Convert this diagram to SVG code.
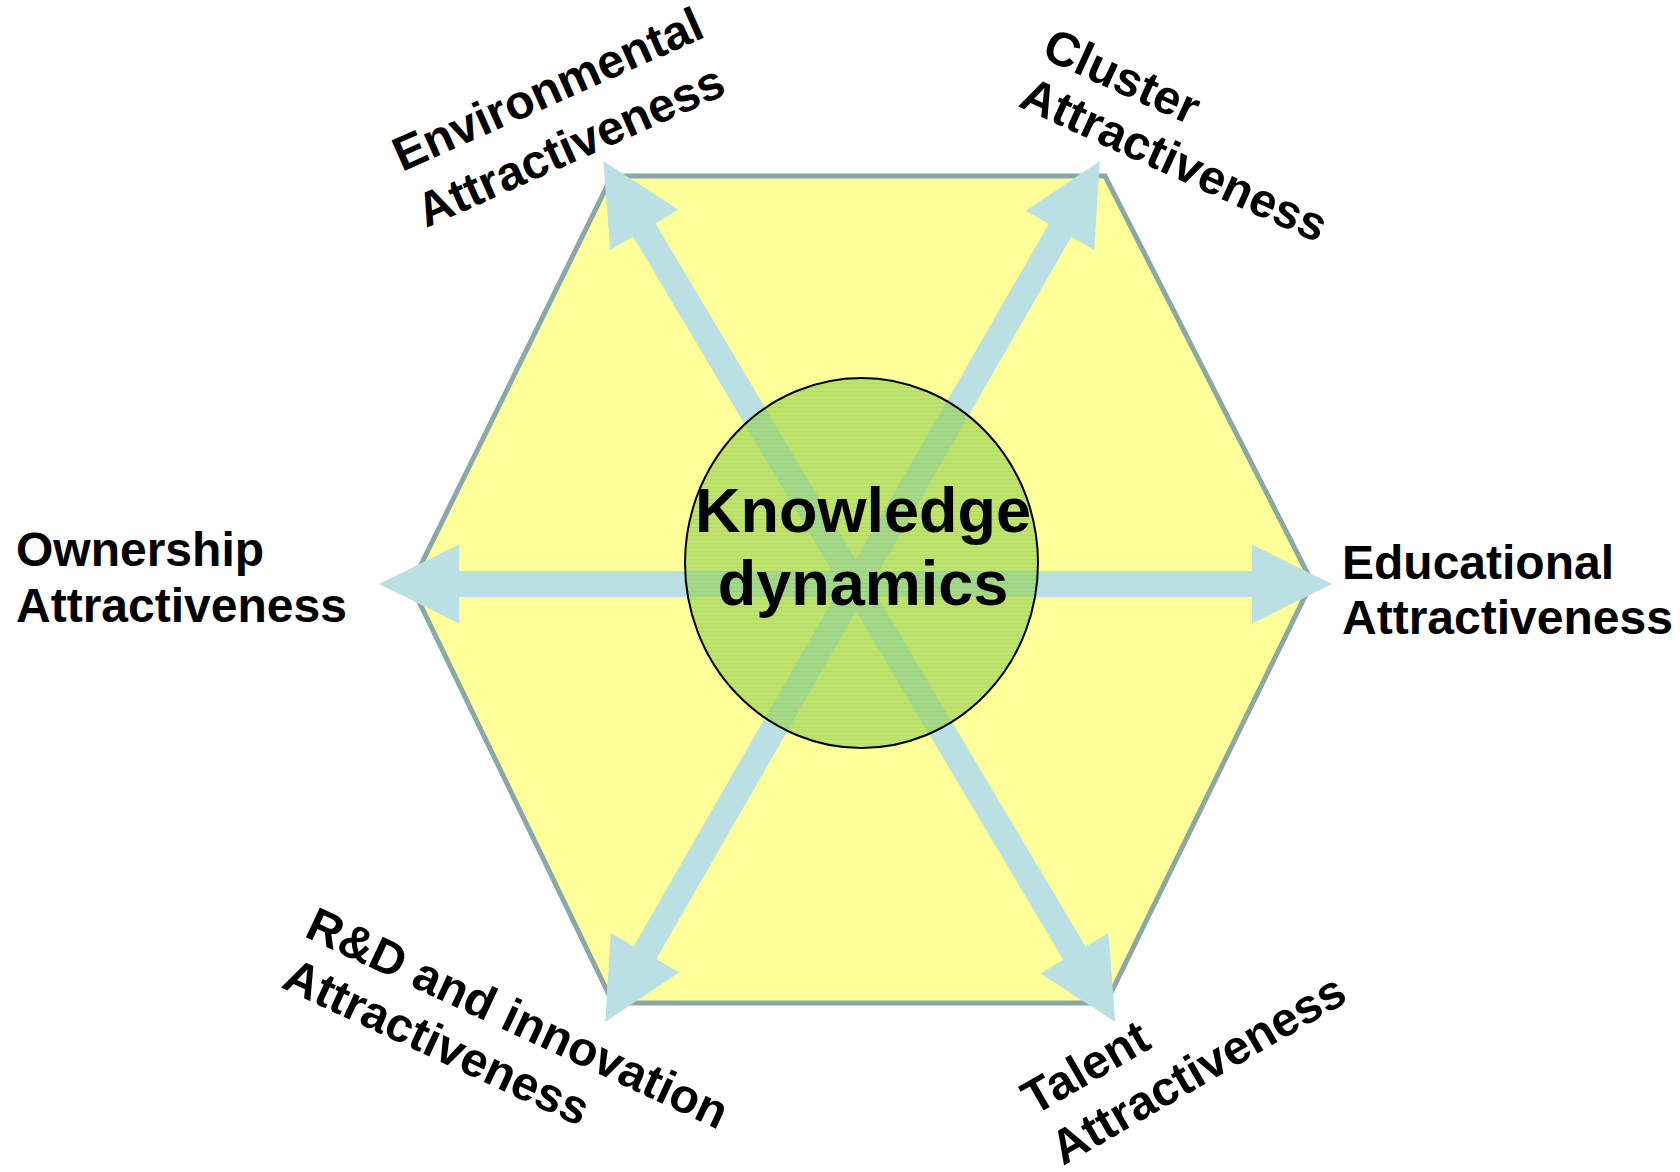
<svg xmlns="http://www.w3.org/2000/svg" width="1680" height="1172" viewBox="0 0 1680 1172">
  <defs>
    <style>
      .hex { fill: #FFFF99; stroke: #8BA8A8; stroke-width: 5; stroke-linejoin: miter; }
      .arrow { fill: #BAE0E4; }
      .label { font-family: "Liberation Sans", Arial, sans-serif; font-weight: bold; font-size: 48px; fill: #000; }
      .center-text { font-family: "Liberation Sans", Arial, sans-serif; font-weight: bold; font-size: 63px; fill: #000; text-anchor: middle; }
    </style>
    <pattern id="tex" width="6" height="4" patternUnits="userSpaceOnUse">
      <rect width="6" height="4" fill="#96D44E"/>
      <rect y="3" width="6" height="1" fill="#84C448"/>
    </pattern>
  </defs>
  <rect width="1680" height="1172" fill="#FFFFFF"/>

  <g id="hexagon">
    <polygon class="hex" points="612,176 1105,176 1312,582 1106,1003 613,1003 411,585"/>
  </g>

  <g id="connectors">
    <path class="arrow" transform="translate(855.5,584)" d="M-476.5,0 L-396.5,-39.5 L-396.5,-13 L396.5,-13 L396.5,-39.5 L476.5,0 L396.5,39.5 L396.5,13 L-396.5,13 L-396.5,39.5 Z"/>
    <path class="arrow" transform="translate(859.3,591.5) rotate(59.26)" d="M-500.85,0 L-420.85,-39.5 L-420.85,-13 L420.85,-13 L420.85,-39.5 L500.85,0 L420.85,39.5 L420.85,13 L-420.85,13 L-420.85,39.5 Z"/>
    <path class="arrow" transform="translate(852.5,591.5) rotate(119.88)" d="M-496.5,0 L-416.5,-39.5 L-416.5,-13 L416.5,-13 L416.5,-39.5 L496.5,0 L416.5,39.5 L416.5,13 L-416.5,13 L-416.5,39.5 Z"/>
  </g>

  <g id="knowledge-dynamics">
    <ellipse cx="861.5" cy="563" rx="176.5" ry="185" fill="url(#tex)" fill-opacity="0.62" stroke="#000" stroke-width="2"/>
    <text class="center-text" x="863" y="532">Knowledge</text>
    <text class="center-text" x="863" y="605">dynamics</text>
  </g>

  <g id="label-environmental">
    <text class="label" transform="translate(402,172) rotate(-24)">Environmental</text>
    <text class="label" transform="translate(426,228) rotate(-24)">Attractiveness</text>
  </g>

  <g id="label-cluster">
    <text class="label" transform="translate(1040,57) rotate(24.5)">Cluster</text>
    <text class="label" transform="translate(1017,106) rotate(24.5)">Attractiveness</text>
  </g>

  <g id="label-ownership">
    <text class="label" x="16" y="566">Ownership</text>
    <text class="label" x="16" y="622">Attractiveness</text>
  </g>

  <g id="label-educational">
    <text class="label" x="1342" y="579">Educational</text>
    <text class="label" x="1342" y="634">Attractiveness</text>
  </g>

  <g id="label-rnd">
    <text class="label" transform="translate(303,936) rotate(25)">R&amp;D and innovation</text>
    <text class="label" transform="translate(280,987) rotate(25)">Attractiveness</text>
  </g>

  <g id="label-talent">
    <text class="label" transform="translate(1034,1116) rotate(-30)">Talent</text>
    <text class="label" transform="translate(1063,1166) rotate(-30)">Attractiveness</text>
  </g>
</svg>
